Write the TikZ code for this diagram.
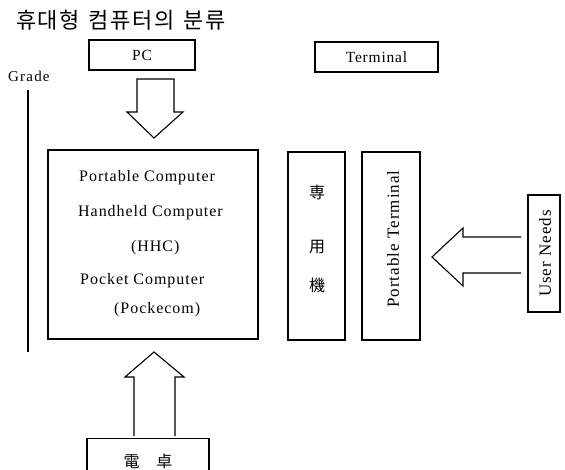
\documentclass[tikz,border=0pt]{standalone}
\usepackage{fontspec}
\setmainfont{Liberation Serif}
\newfontfamily\kr{Noto Sans CJK KR}
\newfontfamily\jp{Noto Sans CJK JP}
\begin{document}
\begin{tikzpicture}[x=1pt,y=-1pt,
  box/.style={draw,line width=1.1pt,inner sep=0pt,font=\fontsize{15.5}{18}\selectfont\addfontfeatures{LetterSpace=5}},
  txt/.style={inner sep=0pt,anchor=base west,font=\fontsize{16}{19}\selectfont\addfontfeatures{LetterSpace=6}},
  vtxt/.style={rotate=90,inner sep=0pt,font=\fontsize{17}{19}\selectfont\addfontfeatures{LetterSpace=6}},
  cjk/.style={inner sep=0pt,font=\jp\fontsize{16}{18}\selectfont},
  barrow/.style={draw,line width=1.1pt,fill=white,line join=miter}]
\useasboundingbox (0,0) rectangle (565,470);
% title
\node[anchor=base west,inner sep=0pt,font=\kr\fontsize{22}{26}\selectfont\addfontfeatures{LetterSpace=7}] (title) at (16,29) {휴대형\hspace{9pt}컴퓨터의\hspace{9pt}분류};
% top boxes
\node[box,minimum width=106pt,minimum height=30pt] (pc) at (142,55) {PC};
\node[box,minimum width=123pt,minimum height=30pt] (term) at (376.5,57) {Terminal};
% Grade
\node[anchor=base west,inner sep=0pt,font=\fontsize{15}{17}\selectfont\addfontfeatures{LetterSpace=8}] (grade) at (8,82) {Grade};
\coordinate (g1) at (28,90);
\coordinate (g2) at (28,352);
\draw[line width=1.2pt] (g1) -- (g2);
% main box
\node[box,minimum width=210pt,minimum height=189pt] (main) at (153,244.5) {};
\node[txt] (t1) at (79,182) {Portable Computer};
\node[txt] (t2) at (78,217) {Handheld Computer};
\node[txt] (t3) at (131,252) {(HHC)};
\node[txt] (t4) at (80,285) {Pocket Computer};
\node[txt] (t5) at (114,314) {(Pockecom)};
% dedicated machine
\node[box,minimum width=57pt,minimum height=188pt] (sen) at (316.5,246) {};
\node[cjk] (c1) at (317,192) {専};
\node[cjk] (c2) at (317,247) {用};
\node[cjk] (c3) at (317,285) {機};
% portable terminal
\node[box,minimum width=58pt,minimum height=188pt] (pt) at (391,246) {};
\node[vtxt] (ptt) at (393,239) {Portable Terminal};
% user needs
\node[box,minimum width=32pt,minimum height=117pt] (un) at (544,253.5) {};
\node[vtxt] (unt) at (545,253.5) {User Needs};
% calculator
\node[box,anchor=north,minimum width=122pt,minimum height=46pt,font=\jp\fontsize{16}{18}\selectfont] (calc) at (148,438) {電\hspace{17pt}卓};
% block arrows
\draw[barrow] (137,79) -- (174,79) -- (174,112) -- (183,112) -- (154,138) -- (127,112) -- (137,112) -- cycle;
\draw[barrow] (134,436) -- (134,377) -- (125,377) -- (154,352) -- (184,377) -- (175,377) -- (175,436);
\draw[barrow] (521,237) -- (463,237) -- (463,228) -- (432,257) -- (463,286) -- (463,273) -- (521,273);
\end{tikzpicture}
\end{document}
